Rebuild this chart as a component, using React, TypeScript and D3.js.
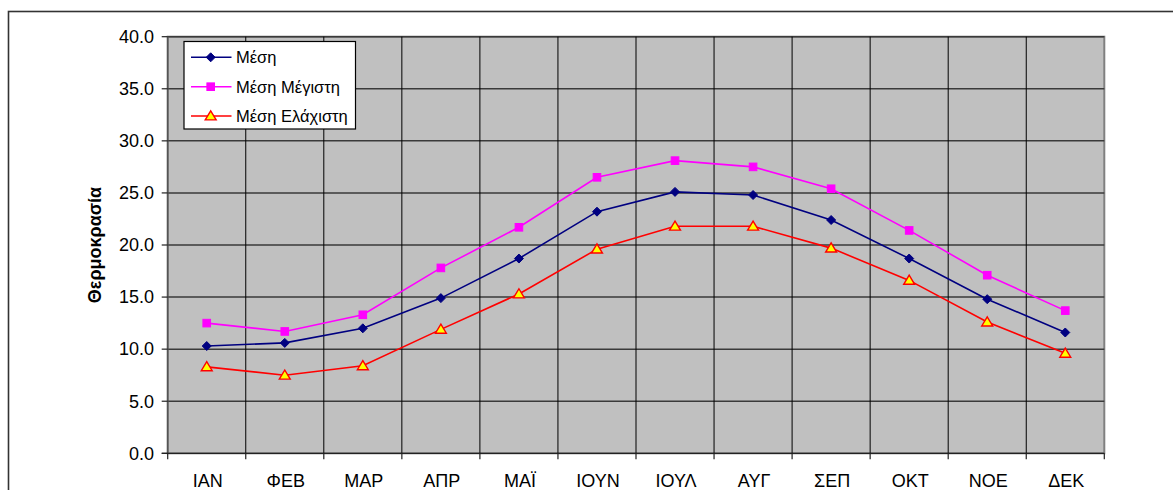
import React from "react";
import * as d3 from "d3";

const months = ["ΙΑΝ", "ΦΕΒ", "ΜΑΡ", "ΑΠΡ", "ΜΑΪ", "ΙΟΥΝ", "ΙΟΥΛ", "ΑΥΓ", "ΣΕΠ", "ΟΚΤ", "ΝΟΕ", "ΔΕΚ"];
const meanTemp = [10.3, 10.6, 12.0, 14.9, 18.7, 23.2, 25.1, 24.8, 22.4, 18.7, 14.8, 11.6];
const meanMax = [12.5, 11.7, 13.3, 17.8, 21.7, 26.5, 28.1, 27.5, 25.4, 21.4, 17.1, 13.7];
const meanMin = [8.3, 7.5, 8.4, 11.9, 15.3, 19.6, 21.8, 21.8, 19.7, 16.6, 12.6, 9.6];
const yTicks = [0, 5, 10, 15, 20, 25, 30, 35, 40];
const seriesNames = ["Μέση", "Μέση Μέγιστη", "Μέση Ελάχιστη"];
const yTitle = "Θερμοκρασία";

const W = 1173;
const H = 490;
const left = 167.7;
const right = 1104.3;
const top = 36.7;
const bottom = 453.3;

export default function App() {
  const xBand = d3.scaleBand<string>().domain(months).range([left, right]).padding(0);
  const xc = (m: string) => (xBand(m) as number) + xBand.bandwidth() / 2;
  const y = d3.scaleLinear().domain([0, 40]).range([bottom, top]);

  const line = d3
    .line<number>()
    .x((_, i) => xc(months[i]))
    .y((v) => y(v));

  const boundaries = d3.range(months.length + 1).map((i) => left + i * xBand.bandwidth());

  const font = "Arial, 'Liberation Sans', sans-serif";

  const diamond = (cx: number, cy: number, r: number) =>
    `M${cx},${cy - r}L${cx + r},${cy}L${cx},${cy + r}L${cx - r},${cy}Z`;
  const triangle = (cx: number, cy: number, r: number) =>
    `M${cx},${cy - r}L${cx + r * 1.05},${cy + r * 0.75}L${cx - r * 1.05},${cy + r * 0.75}Z`;

  const series = [
    { name: seriesNames[0], data: meanTemp, color: "#000080", marker: "diamond" },
    { name: seriesNames[1], data: meanMax, color: "#FF00FF", marker: "square" },
    { name: seriesNames[2], data: meanMin, color: "#FF0000", marker: "triangle" },
  ];

  const drawMarker = (kind: string, cx: number, cy: number, key: string) => {
    if (kind === "diamond")
      return <path key={key} d={diamond(cx, cy, 4.5)} fill="#000080" stroke="#000080" strokeWidth={1} />;
    if (kind === "square")
      return <rect key={key} x={cx - 3.8} y={cy - 3.8} width={7.6} height={7.6} fill="#FF00FF" stroke="#FF00FF" strokeWidth={1} />;
    return <path key={key} d={triangle(cx, cy, 5.2)} fill="#FFFF00" stroke="#FF0000" strokeWidth={1.4} strokeLinejoin="miter" />;
  };

  const legendX = 184;
  const legendY = 41.5;
  const legendRows = [57.3, 86.7, 116];

  return (
    <svg width={W} height={H} style={{ position: "absolute", left: 0, top: 0, background: "#fff" }}>
      <rect x={0} y={0} width={W} height={H} fill="#fff" />
      <rect x={8.5} y={11.5} width={1300} height={700} fill="none" stroke="#333" strokeWidth={1.6} />

      {/* plot area */}
      <rect x={left} y={top} width={right - left} height={bottom - top} fill="#C0C0C0" stroke="#808080" strokeWidth={2} />

      {/* horizontal gridlines */}
      {yTicks.slice(1).map((t) => (
        <line key={"h" + t} x1={left} x2={right} y1={y(t)} y2={y(t)} stroke="#3a3a3a" strokeWidth={1.5} />
      ))}
      {/* vertical gridlines */}
      {boundaries.slice(1, -1).map((bx, i) => (
        <line key={"v" + i} x1={bx} x2={bx} y1={top} y2={bottom} stroke="#000" strokeWidth={1} />
      ))}

      {/* axes */}
      <line x1={left} x2={left} y1={top} y2={bottom} stroke="#555" strokeWidth={1.5} />
      <line x1={left - 6} x2={right} y1={bottom} y2={bottom} stroke="#222" strokeWidth={1.2} />
      {yTicks.map((t) => (
        <g key={"yt" + t}>
          <line x1={left - 6} x2={left} y1={y(t)} y2={y(t)} stroke="#222" strokeWidth={1.2} />
          <text x={154} y={y(t)} dy="0.35em" textAnchor="end" fontFamily={font} fontSize={18} fill="#000">
            {t.toFixed(1)}
          </text>
        </g>
      ))}
      {boundaries.map((bx, i) => (
        <line key={"xt" + i} x1={bx} x2={bx} y1={bottom} y2={bottom + 6} stroke="#222" strokeWidth={1.2} />
      ))}
      {months.map((m) => (
        <text key={"xl" + m} x={xc(m) + 1} y={486.5} textAnchor="middle" fontFamily={font} fontSize={18} fill="#000">
          {m}
        </text>
      ))}

      {/* y title */}
      <text
        transform={`translate(101,245) rotate(-90)`}
        textAnchor="middle"
        fontFamily={font}
        fontSize={18}
        fontWeight="bold"
        fill="#000"
      >
        {yTitle}
      </text>

      {/* series */}
      {series.map((s) => (
        <g key={s.name}>
          <path d={line(s.data) as string} fill="none" stroke={s.color} strokeWidth={1.6} />
          {s.data.map((v, i) => drawMarker(s.marker, xc(months[i]), y(v), s.name + i))}
        </g>
      ))}

      {/* legend */}
      <rect x={legendX} y={legendY} width={171.5} height={87.5} fill="#fff" stroke="#000" strokeWidth={1.2} />
      {series.map((s, i) => (
        <g key={"lg" + i}>
          <line x1={191} x2={231.5} y1={legendRows[i]} y2={legendRows[i]} stroke={s.color} strokeWidth={1.6} />
          {drawMarker(s.marker, 210.7, legendRows[i], "lm" + i)}
          <text x={236} y={legendRows[i]} dy="0.36em" fontFamily={font} fontSize={16.5} fill="#000">
            {s.name}
          </text>
        </g>
      ))}
    </svg>
  );
}
